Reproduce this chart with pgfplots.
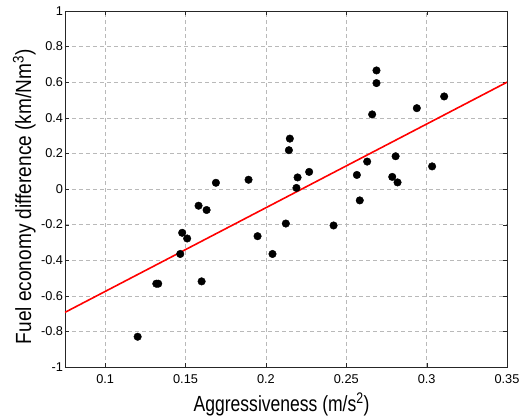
\documentclass[border=0pt]{standalone}
\usepackage{fontspec}
\setmainfont{Liberation Sans}
\usepackage{pgfplots}
\pgfplotsset{compat=1.18}
\begin{document}
\begin{tikzpicture}
\path[use as bounding box] (-65bp,-51bp) rectangle (463bp,367bp);
\begin{axis}[
  at={(0,0)}, anchor=south west,
  scale only axis,
  width=442bp, height=356bp,
  xmin=0.075, xmax=0.35, ymin=-1, ymax=1,
  xtick={0.1,0.15,0.2,0.25,0.3,0.35},
  ytick={-1,-0.8,-0.6,-0.4,-0.2,0,0.2,0.4,0.6,0.8,1},
  /pgf/number format/assume math mode=true,
  xticklabel style={font=\fontsize{12.8}{14}\selectfont, yshift=-4bp},
  yticklabel style={font=\fontsize{12.8}{14}\selectfont, xshift=1.5bp},
  grid=major,
  major grid style={gray!55, dash pattern=on 4bp off 3bp, line width=0.6pt},
  axis line style={black!85, line width=0.8pt},
  tick style={black!85},
  tick align=inside,
  xlabel={\scalebox{0.8}[1]{Aggressiveness (m/s\textsuperscript{2})}},
  ylabel={\scalebox{0.87}[1]{Fuel economy difference (km/Nm\textsuperscript{3})}},
  label style={font=\fontsize{22}{24}\selectfont},
  xlabel style={at={(axis description cs:0.49,-0.1236)}, anchor=base},
  ylabel style={at={(axis description cs:-0.0769,0.478)}, anchor=base, rotate=0},
]
\addplot[only marks, mark=*, mark size=3.8pt, black] coordinates {
(0.1689,0.035) (0.1892,0.052) (0.2149,0.283) (0.2143,0.218) (0.2197,0.065) (0.2190,0.006)
(0.2688,0.666) (0.2688,0.595) (0.2661,0.419) (0.2939,0.454) (0.3109,0.520)
(0.2269,0.096) (0.2807,0.184) (0.2630,0.154) (0.2566,0.079) (0.3034,0.127)
(0.2786,0.068) (0.2819,0.037) (0.2584,-0.064)
(0.1581,-0.094) (0.1631,-0.118) (0.1479,-0.246) (0.1510,-0.278) (0.1467,-0.365)
(0.1318,-0.532) (0.1330,-0.532) (0.1600,-0.519) (0.1202,-0.830)
(0.1948,-0.265) (0.2041,-0.365) (0.2124,-0.194) (0.2421,-0.205)
};
\addplot[red, line width=1.6pt] coordinates {(0.075,-0.693) (0.35,0.600)};
\end{axis}
\end{tikzpicture}
\end{document}
